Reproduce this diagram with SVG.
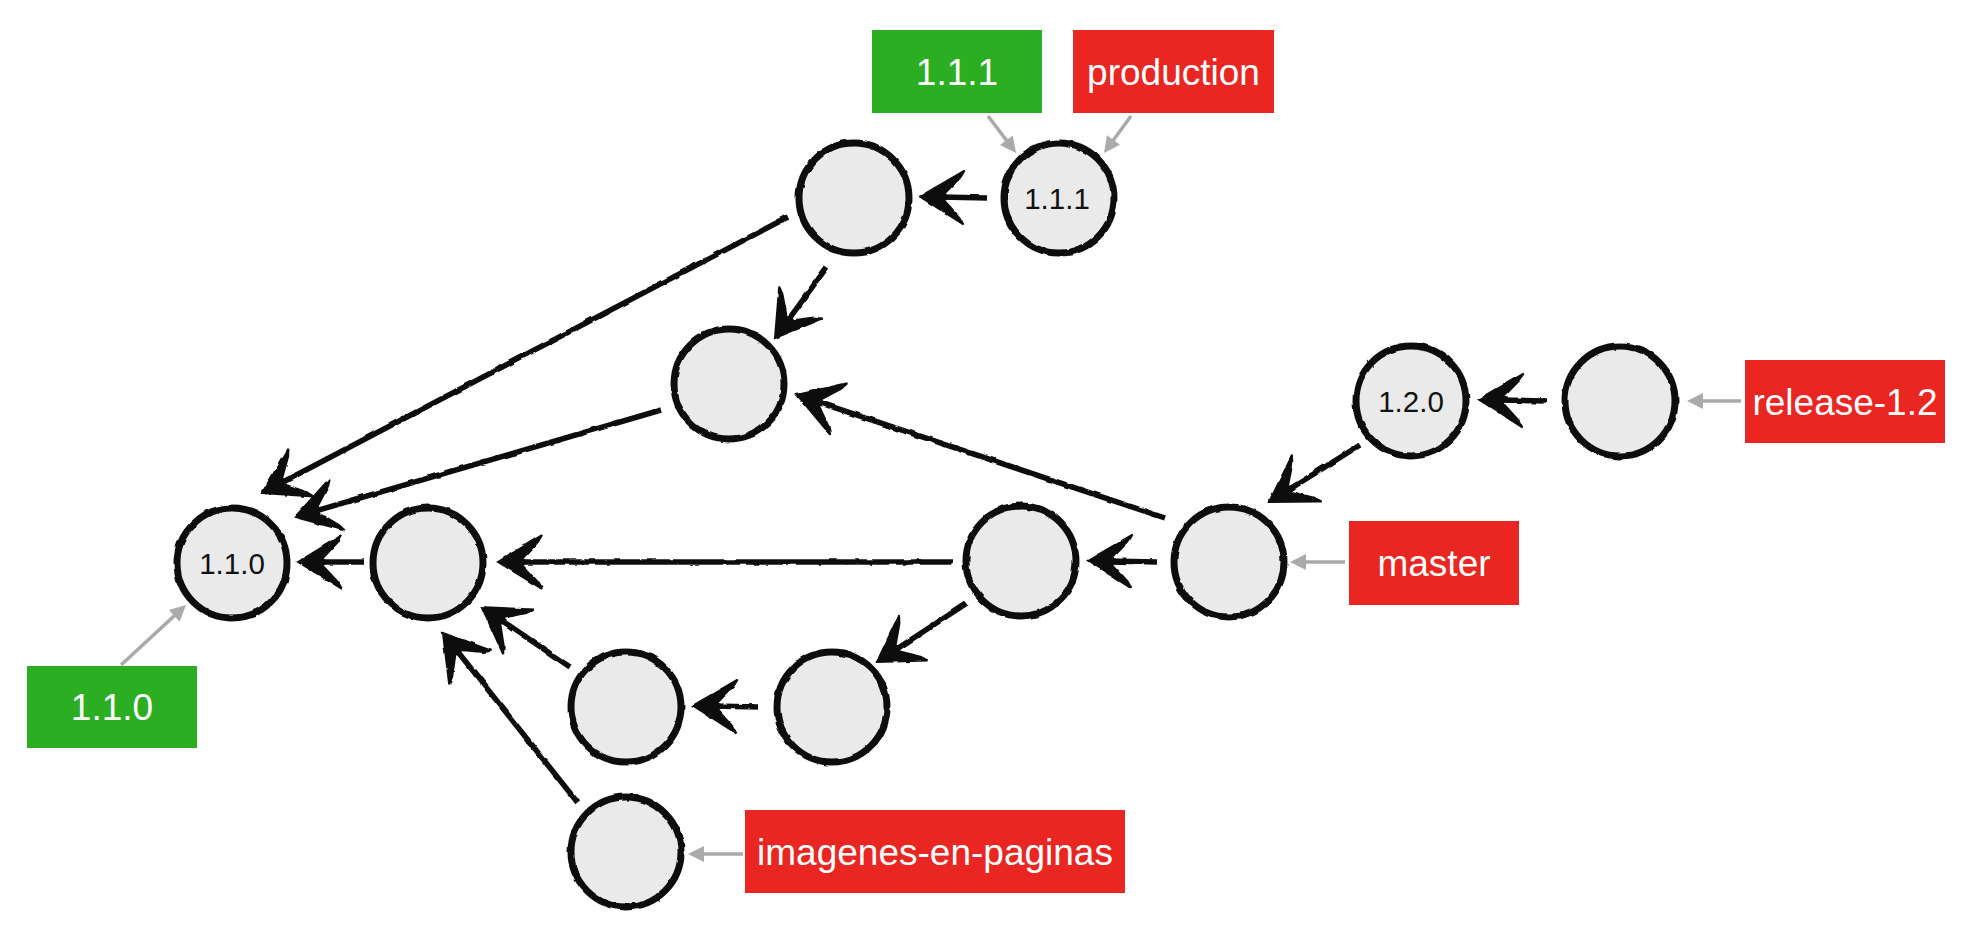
<svg xmlns="http://www.w3.org/2000/svg" width="1966" height="938" viewBox="0 0 1966 938">
<style>
  .node circle { fill: #EAEAEA; stroke: #111; stroke-width: 7; }
  .ntext { font-family: "Liberation Sans", Arial, sans-serif; font-size: 29.5px; fill: #111; text-anchor: middle; }
  .ltext { font-family: "Liberation Sans", Arial, sans-serif; font-size: 37px; fill: #FFFFFF; text-anchor: middle; }
  .red { fill: #E92621; }
  .green { fill: #2BAE21; }
  .edge { fill: none; stroke: #111; stroke-width: 5.5; marker-end: url(#head); }
  .ptr { fill: none; stroke: #AAAAAA; stroke-width: 3.5; marker-end: url(#ghead); }
</style>
<defs>
  <filter id="rough" filterUnits="userSpaceOnUse" x="0" y="0" width="1966" height="938">
    <feTurbulence type="fractalNoise" baseFrequency="0.08" numOctaves="2" seed="3" result="n"/>
    <feDisplacementMap in="SourceGraphic" in2="n" scale="3" xChannelSelector="R" yChannelSelector="G"/>
  </filter>
  <marker id="head" markerUnits="userSpaceOnUse" viewBox="-30 -30 54 60" refX="0" refY="0" markerWidth="54" markerHeight="60" orient="auto" overflow="visible">
    <path d="M20,0 L-24,-27 L-20,-20 L-4,-3 L-10,0 L-4,3 L-20,20 L-24,27 Z" fill="#111" stroke="#111" stroke-width="2" stroke-linejoin="miter"/>
  </marker>
  <marker id="ghead" markerUnits="userSpaceOnUse" viewBox="-6 -10 20 20" refX="0" refY="0" markerWidth="20" markerHeight="20" orient="auto" overflow="visible">
    <path d="M12,0 L-4,-8 L-4,8 Z" fill="#AAAAAA"/>
  </marker>
</defs>

<g id="connectors" filter="url(#rough)">
  <path class="edge" d="M987,198 L940,197"/>
  <path class="edge" d="M788,217 L279.7,483.7"/>
  <path class="edge" d="M827,267 L786.8,321.9"/>
  <path class="edge" d="M661,410 L314.2,511.4"/>
  <path class="edge" d="M364,562 L318,562"/>
  <path class="edge" d="M1165,518 L816,401.3"/>
  <path class="edge" d="M952,562 L518,562"/>
  <path class="edge" d="M1157,562 L1108,561"/>
  <path class="edge" d="M1360,445 L1286,491.4"/>
  <path class="edge" d="M1547,401 L1499,400"/>
  <path class="edge" d="M967,603 L893.7,651"/>
  <path class="edge" d="M758,707 L713,706"/>
  <path class="edge" d="M570,667 L498.5,618.3"/>
  <path class="edge" d="M578,803 L455.4,648.7"/>
</g>

<g id="pointers">
  <path class="ptr" d="M988,116 L1008.8,143.4"/>
  <path class="ptr" d="M1131,116 L1111.1,143.3"/>
  <path class="ptr" d="M121,665 L177.2,613.1"/>
  <path class="ptr" d="M1741,401 L1699,401"/>
  <path class="ptr" d="M1345,562 L1302,562"/>
  <path class="ptr" d="M743,854 L700,854"/>
</g>

<g id="nodes" filter="url(#rough)">
  <g id="node-1.1.1" class="node"><circle cx="1059" cy="198" r="55"/></g>
  <g id="node-t1" class="node"><circle cx="854" cy="198" r="55"/></g>
  <g id="node-m2" class="node"><circle cx="729" cy="384" r="55"/></g>
  <g id="node-1.1.0" class="node"><circle cx="232" cy="563" r="55"/></g>
  <g id="node-n2" class="node"><circle cx="428" cy="563" r="55"/></g>
  <g id="node-m3" class="node"><circle cx="1021" cy="561" r="55"/></g>
  <g id="node-master" class="node"><circle cx="1229" cy="562" r="55"/></g>
  <g id="node-1.2.0" class="node"><circle cx="1411" cy="401" r="55"/></g>
  <g id="node-r" class="node"><circle cx="1620" cy="401" r="55"/></g>
  <g id="node-b1" class="node"><circle cx="626" cy="707" r="55"/></g>
  <g id="node-b2" class="node"><circle cx="832" cy="707" r="55"/></g>
  <g id="node-i" class="node"><circle cx="626" cy="852" r="55"/></g>
</g>

<g id="node-texts">
  <text class="ntext" x="1057" y="208.5">1.1.1</text>
  <text class="ntext" x="232" y="573.5">1.1.0</text>
  <text class="ntext" x="1411" y="411.5">1.2.0</text>
</g>

<g id="label-tag-1.1.1">
  <rect class="green" x="872" y="30" width="170" height="83"/>
  <text class="ltext" x="957" y="85">1.1.1</text>
</g>
<g id="label-production">
  <rect class="red" x="1073" y="30" width="201" height="83"/>
  <text class="ltext" x="1173.5" y="85">production</text>
</g>
<g id="label-tag-1.1.0">
  <rect class="green" x="27" y="666" width="170" height="82"/>
  <text class="ltext" x="112" y="720">1.1.0</text>
</g>
<g id="label-release-1.2">
  <rect class="red" x="1745" y="360" width="200" height="83"/>
  <text class="ltext" x="1845" y="415">release-1.2</text>
</g>
<g id="label-master">
  <rect class="red" x="1349" y="521" width="170" height="84"/>
  <text class="ltext" x="1434" y="576">master</text>
</g>
<g id="label-imagenes-en-paginas">
  <rect class="red" x="745" y="810" width="380" height="83"/>
  <text class="ltext" x="935" y="865">imagenes-en-paginas</text>
</g>
</svg>
